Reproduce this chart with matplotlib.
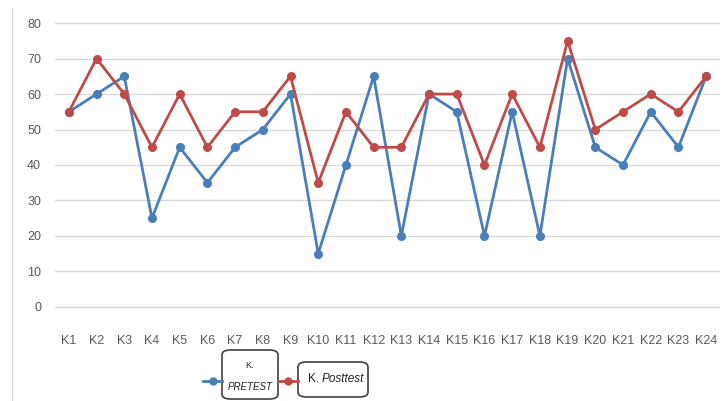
import matplotlib
matplotlib.use("Agg")
import matplotlib.pyplot as plt
from matplotlib.lines import Line2D
from matplotlib.patches import FancyBboxPatch

plt.rcParams['font.family'] = ['Liberation Sans', 'DejaVu Sans']

labels = ["K%d" % i for i in range(1, 25)]
pretest = [55, 60, 65, 25, 45, 35, 45, 50, 60, 15, 40, 65,
           20, 60, 55, 20, 55, 20, 70, 45, 40, 55, 45, 65]
posttest = [55, 70, 60, 45, 60, 45, 55, 55, 65, 35, 55, 45,
            45, 60, 60, 40, 60, 45, 75, 50, 55, 60, 55, 65]

blue = '#4A7EBB'
red = '#BE4B48'
grey = '#595959'

W, H = 726, 401
fig = plt.figure(figsize=(W / 100, H / 100), dpi=100)
ax = fig.add_axes([55 / W, 1 - 309 / H, 665 / W, 288 / H])

x = range(len(labels))
ax.plot(x, pretest, color=blue, lw=2.0, marker='o', ms=5.5, zorder=3)
ax.plot(x, posttest, color=red, lw=2.0, marker='o', ms=5.5, zorder=3)

# small margin so the 0 and 80 gridlines are drawn in full
ax.set_xlim(-0.5, len(labels) - 0.5)
ax.set_ylim(-0.6, 80.6)
ax.set_yticks(range(0, 81, 10))
ax.set_xticks(list(x))
ax.set_xticklabels(labels)
ax.grid(axis='y', color='#D9D9D9', lw=1)
ax.set_axisbelow(True)
for s in ax.spines.values():
    s.set_visible(False)
ax.tick_params(length=0, colors=grey, labelsize=9)
ax.tick_params(axis='y', pad=10)
ax.tick_params(axis='x', pad=19)

# chart frame edge on the left
fig.add_artist(Line2D([12 / W, 12 / W], [0, 1 - 8 / H], color='#D9D9D9', lw=1))


def fx(px):
    return px / W


def fy(py):
    return 1 - py / H


# legend drawn by hand with boxed labels
fig.add_artist(Line2D([fx(203), fx(213), fx(222)], [fy(381)] * 3, color=blue, lw=2,
                      marker='o', ms=5, markevery=[1]))
fig.add_artist(Line2D([fx(278), fx(288), fx(298)], [fy(381)] * 3, color=red, lw=2,
                      marker='o', ms=5, markevery=[1]))

box1 = FancyBboxPatch((fx(222), fy(399)), fx(56), 49 / H,
                      boxstyle='round,pad=0,rounding_size=0.012',
                      transform=fig.transFigure, fc='white', ec='#404040', lw=1.2)
box2 = FancyBboxPatch((fx(298), fy(397)), fx(70), 35 / H,
                      boxstyle='round,pad=0,rounding_size=0.012',
                      transform=fig.transFigure, fc='white', ec='#404040', lw=1.2)
fig.add_artist(box1)
fig.add_artist(box2)

fig.text(fx(250), fy(366), 'K.', ha='center', va='center', fontsize=6.5, color='#222222')
fig.text(fx(250), fy(387), 'PRETEST', ha='center', va='center', fontsize=7,
         style='italic', color='#222222')
fig.text(fx(308), fy(379), 'K. ', ha='left', va='center', fontsize=8.5, color='#222222')
fig.text(fx(322), fy(379), 'Posttest', ha='left', va='center', fontsize=8.5,
         style='italic', color='#222222')

fig.savefig('out.png', dpi=100)
